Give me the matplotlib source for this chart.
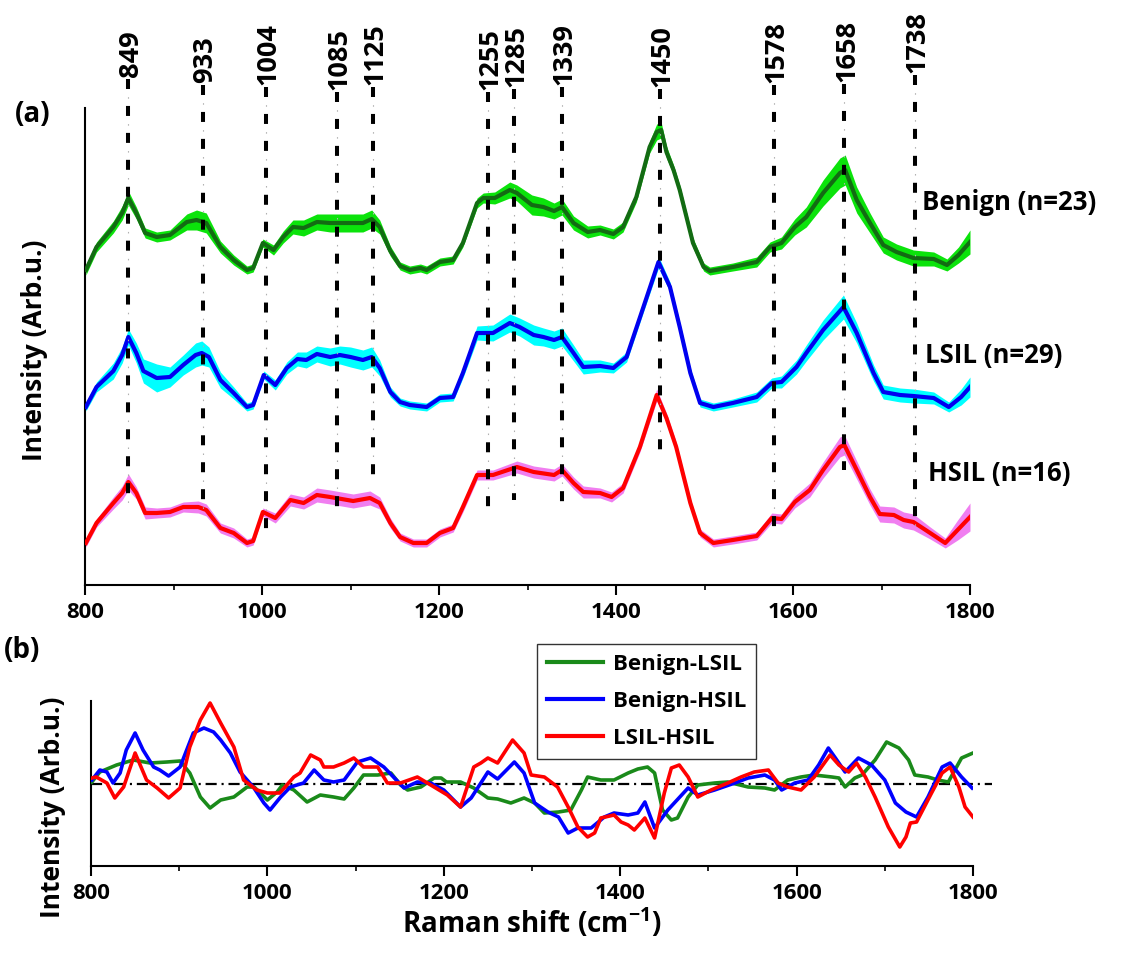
import matplotlib
matplotlib.use('Agg')
import matplotlib.pyplot as plt
from matplotlib.ticker import MultipleLocator

# ---------------- (a) mean spectra (wavenumber, intensity, half-width of band) -------------
benign_wn = [801, 813, 832, 842, 849, 858, 868, 881, 896, 915, 926, 937, 953, 968, 983, 990, 1001,
             1013, 1024, 1035, 1047, 1062, 1077, 1095, 1114, 1124, 1133, 1145, 1156, 1167, 1179,
             1186, 1201, 1216, 1227, 1243, 1250, 1263, 1280, 1288, 1305, 1318, 1330, 1339, 1352,
             1368, 1382, 1397, 1408, 1423, 1438, 1446, 1451, 1457, 1465, 1472, 1487, 1499, 1506, 1532,
             1559, 1574, 1587, 1602, 1615, 1634, 1653, 1659, 1672, 1687, 1702, 1717, 1736, 1759,
             1774, 1787, 1800]
benign_int = [315, 338, 358, 372, 387, 372, 352, 348, 350, 363, 365, 362, 338, 325, 315, 317, 342,
              335, 348, 358, 357, 363, 362, 362, 362, 366, 358, 334, 319, 315, 317,
              315, 323, 325, 342, 382, 387, 387, 395, 392, 380, 378, 374, 378, 362,
              353, 355, 351, 358, 388, 438, 453, 455, 433, 415, 395, 342, 318, 314, 318,
              323, 338, 342, 358, 368, 392, 412, 415, 385, 362, 340, 333, 327, 326,
              320, 330, 343]
benign_sd = [5, 5, 6, 7, 7, 6, 5, 5, 5, 8, 10, 10, 6, 5, 4, 4, 4,
             5, 6, 7, 8, 8, 9, 9, 9, 9, 7, 5, 4, 4, 4,
             4, 4, 4, 4, 5, 5, 6, 8, 8, 10, 9, 8, 8, 7,
             6, 5, 5, 5, 5, 6, 8, 8, 6, 5, 5, 5, 4, 4, 4,
             5, 5, 6, 8, 10, 13, 15, 15, 13, 10, 8, 8, 8, 7,
             6, 8, 12]

lsil_wn = [801, 813, 832, 842, 849, 858, 866, 881, 896, 911, 925, 932, 940, 953, 968, 983, 990,
           1002, 1015, 1028, 1040, 1050, 1062, 1077, 1088, 1100, 1114, 1124, 1133, 1145, 1156,
           1167, 1186, 1201, 1216, 1227, 1243, 1261, 1280, 1291, 1307, 1318, 1330, 1339, 1352,
           1363, 1382, 1397, 1412, 1431, 1448, 1461, 1472, 1484, 1495, 1510, 1532, 1559, 1576,
           1587, 1604, 1615, 1634, 1657, 1672, 1691, 1702, 1721, 1736, 1759, 1776, 1790, 1800]
lsil_int = [178, 198, 214, 230, 248, 232, 214, 207, 208, 220, 230, 232, 228, 205, 192, 178, 180,
            210, 200, 217, 226, 225, 231, 228, 230, 228, 225, 228, 217, 193, 183,
            180, 178, 187, 188, 212, 252, 252, 262, 258, 250, 248, 245, 248, 232,
            218, 219, 217, 228, 278, 323, 298, 258, 212, 182, 178, 182, 188, 202,
            203, 218, 232, 255, 278, 252, 212, 193, 190, 189, 187, 178, 188, 198]
lsil_sd = [4, 5, 8, 8, 8, 10, 12, 14, 10, 10, 12, 12, 10, 8, 6, 4, 4,
           4, 5, 6, 7, 8, 8, 9, 9, 10, 10, 10, 8, 5, 4,
           4, 4, 4, 4, 5, 7, 8, 9, 9, 10, 9, 9, 9, 8,
           7, 6, 5, 5, 5, 6, 5, 5, 5, 4, 4, 4, 5, 5,
           6, 7, 8, 10, 12, 10, 8, 7, 7, 7, 6, 5, 8, 10]

hsil_wn = [801, 813, 832, 842, 849, 858, 868, 881, 896, 911, 928, 937, 953, 968, 983, 990, 1001,
           1015, 1032, 1047, 1062, 1077, 1103, 1122, 1133, 1145, 1156, 1171, 1186, 1201, 1216,
           1227, 1243, 1261, 1288, 1307, 1330, 1339, 1352, 1363, 1382, 1395, 1408, 1427, 1446,
           1457, 1468, 1484, 1495, 1510, 1532, 1559, 1576, 1587, 1602, 1619, 1634, 1653, 1658,
           1672, 1687, 1698, 1714, 1725, 1736, 1755, 1772, 1786, 1800]
hsil_int = [42, 62, 82, 92, 103, 92, 72, 72, 73, 78, 78, 75, 57, 52, 42, 44, 73,
            67, 85, 82, 90, 88, 84, 87, 82, 62, 48, 42, 42, 52, 57,
            78, 110, 110, 118, 113, 110, 115, 102, 93, 92, 88, 97, 138, 190,
            167, 138, 82, 52, 42, 45, 49, 67, 66, 83, 95, 115, 138, 140,
            115, 88, 71, 70, 65, 63, 52, 42, 55, 68]
hsil_sd = [4, 4, 6, 7, 8, 6, 6, 5, 5, 5, 6, 6, 5, 5, 4, 4, 4,
           5, 6, 6, 7, 7, 7, 7, 6, 5, 4, 4, 4, 4, 4,
           5, 5, 5, 6, 6, 6, 6, 6, 6, 5, 5, 5, 5, 6,
           5, 5, 4, 4, 4, 4, 4, 5, 5, 6, 7, 8, 10, 10,
           9, 8, 8, 8, 8, 8, 6, 5, 10, 14]

group_labels = ['Benign (n=23)', 'LSIL (n=29)', 'HSIL (n=16)']
peaks = [849, 933, 1004, 1085, 1125, 1255, 1285, 1339, 1450, 1578, 1658, 1738]

# ---------------- (b) difference spectra ----------------
bl_wn = [801, 810, 829, 848, 867, 886, 901, 912, 924, 935, 947, 962, 977, 985, 1000, 1011, 1017,
         1030, 1045, 1060, 1075, 1087, 1098, 1109, 1125, 1140, 1151, 1159, 1174, 1189, 1197, 1203,
         1219, 1234, 1250, 1261, 1276, 1291, 1303, 1314, 1330, 1344, 1356, 1363, 1378, 1393, 1409,
         1420, 1431, 1439, 1448, 1458, 1465, 1477, 1488, 1507, 1522, 1545, 1564, 1575, 1590, 1605,
         1620, 1640, 1648, 1655, 1666, 1674, 1689, 1702, 1716, 1727, 1734, 1749, 1760, 1772, 1787,
         1800]
bl_val = [2, 12, 19, 24, 21, 22, 23, 11, -13, -24, -16, -13, -3, -3, -16, -8, -1,
          -6, -18, -11, -13, -15, -4, 9, 9, 11, -1, -6, -3, 6, 6, 2,
          2, -4, -14, -15, -19, -14, -19, -29, -28, -26, -6, 7, 4, 4, 11,
          15, 17, 11, -26, -36, -34, -13, -1, 1, 2, -3, -4, -6, 4, 7,
          9, 7, 6, -3, 6, 9, 24, 42, 36, 24, 9, 7, 4, 2, 26,
          31]

bh_wn = [801, 810, 818, 825, 833, 840, 850, 859, 871, 878, 888, 901, 916, 928, 939, 947, 958,
         969, 984, 996, 1003, 1015, 1026, 1041, 1053, 1064, 1075, 1087, 1102, 1117, 1132, 1144,
         1155, 1170, 1185, 1200, 1219, 1231, 1242, 1250, 1261, 1280, 1291, 1303, 1318, 1330, 1341,
         1352, 1367, 1382, 1393, 1409, 1420, 1428, 1439, 1454, 1477, 1488, 1507, 1530, 1545, 1564,
         1575, 1583, 1598, 1613, 1625, 1636, 1644, 1655, 1670, 1685, 1700, 1712, 1724, 1736, 1749,
         1765, 1774, 1787, 1799]
bh_val = [4, 14, 12, 1, 11, 34, 51, 34, 17, 14, 8, 17, 51, 56, 52, 44, 31,
          12, -3, -19, -26, -13, -3, 1, 14, 4, 2, 4, 22, 26, 17, 6,
          -4, 2, 1, -6, -23, -14, 1, 12, 5, 22, 11, -19, -28, -33, -49,
          -44, -44, -33, -29, -31, -29, -18, -44, -26, -4, -11, -6, 1, 6, 9,
          4, -6, 1, 4, 19, 36, 26, 12, 26, 19, 4, -19, -28, -33, -13,
          17, 21, 7, -4]

lh_wn = [801, 806, 818, 827, 837, 850, 863, 875, 888, 901, 912, 924, 935, 947, 962, 973, 988,
         1000, 1014, 1030, 1037, 1049, 1060, 1064, 1075, 1087, 1098, 1109, 1125, 1136, 1151, 1170,
         1189, 1204, 1219, 1234, 1242, 1250, 1261, 1278, 1291, 1299, 1314, 1329, 1341, 1352, 1363,
         1371, 1378, 1393, 1401, 1409, 1416, 1428, 1439, 1450, 1458, 1467, 1477, 1488, 1503, 1522,
         1537, 1552, 1568, 1579, 1590, 1605, 1620, 1638, 1648, 1659, 1668, 1678, 1689, 1704, 1717,
         1724, 1729, 1736, 1753, 1765, 1774, 1784, 1791, 1800]
lh_val = [6, 7, 1, -14, -3, 31, 4, -4, -14, -4, 37, 64, 81, 61, 37, 4, -6,
          -9, -9, 7, 11, 29, 24, 17, 17, 21, 26, 17, 17, 1, 1, 7,
          -3, -11, -23, 17, 21, 26, 21, 44, 31, 9, 7, -3, -23, -43, -53,
          -49, -34, -31, -38, -41, -46, -34, -54, -9, 16, 19, 7, -13, -6, 1,
          7, 12, 14, 1, -3, -6, 7, 29, 19, 12, 21, 7, -13, -43, -63,
          -53, -39, -38, -9, 11, 17, -3, -23, -33]

diff_labels = ['Benign-LSIL', 'Benign-HSIL', 'LSIL-HSIL']

# ---------------- style ----------------
FONT = ['Open Sans', 'DejaVu Sans']
plt.rcParams['font.family'] = FONT
plt.rcParams['font.weight'] = 'bold'
plt.rcParams['lines.scale_dashes'] = False
plt.rcParams['mathtext.fontset'] = 'custom'
plt.rcParams['mathtext.rm'] = 'Open Sans:bold'
plt.rcParams['mathtext.it'] = 'Open Sans:bold'
plt.rcParams['mathtext.bf'] = 'Open Sans:bold'

W, H = 1123, 958
fig = plt.figure(figsize=(W / 100, H / 100), dpi=100)
ax1 = fig.add_axes([85 / W, 1 - 585 / H, 885 / W, 477 / H])
ax2 = fig.add_axes([91 / W, 1 - 866 / H, 882 / W, 165 / H])

series = [
    (benign_wn, benign_int, benign_sd, '#0be30b', '#136b13'),
    (lsil_wn, lsil_int, lsil_sd, '#00ffff', '#0000f0'),
    (hsil_wn, hsil_int, hsil_sd, '#f07ef0', '#ff0000'),
]
for wn, val, sd, band_c, line_c in series:
    lo = [v - s for v, s in zip(val, sd)]
    hi = [v + s for v, s in zip(val, sd)]
    ax1.fill_between(wn, lo, hi, color=band_c, lw=0, zorder=2)
    ax1.plot(wn, val, color=line_c, lw=3, zorder=3, solid_joinstyle='round')

# peak marker lines (extent in axis units of panel a)
line_bottom = [78, 70, 55, 78, 108, 78, 85, 80, 133, 52, 115, 53]
label_base = [508, 502, 500, 495, 500, 495, 498, 500, 498, 502, 503, 512]
for p, yb, yt in zip(peaks, line_bottom, label_base):
    ax1.plot([p, p], [yt - 2, yb], color='black', lw=2.9,
             linestyle=(0, (7.2, 12.2)), clip_on=False, zorder=5)
    ax1.plot([p, p], [yt - 2, yb], color='#b0b0b0', lw=0.8,
             linestyle=(6.66, (1.1, 18.3)), clip_on=False, zorder=5)
    ax1.text(p + 3, yt, str(p), rotation=90, ha='center', va='bottom',
             fontsize=19.5, fontweight='bold', clip_on=False)

label_pos = [(1746, 382), (1749, 230), (1752, 112)]
for txt, (lx, ly) in zip(group_labels, label_pos):
    ax1.text(lx, ly, txt, ha='left', va='center', fontsize=18.5, fontweight='bold',
             clip_on=False, zorder=6)

ax1.set_xlim(800, 1800)
ax1.set_ylim(0, 477)
ax1.set_yticks([])
for s in ['top', 'right']:
    ax1.spines[s].set_visible(False)
for s in ['left', 'bottom']:
    ax1.spines[s].set_linewidth(1.5)
ax1.xaxis.set_major_locator(MultipleLocator(200))
ax1.xaxis.set_minor_locator(MultipleLocator(100))
ax1.tick_params(axis='x', which='major', length=7, width=1.5, labelsize=16, pad=5)
ax1.tick_params(axis='x', which='minor', length=3.5, width=1.2)
for lab in ax1.get_xticklabels():
    lab.set_fontweight('bold')

# ---------------- panel b ----------------
diff_series = [(bl_wn, bl_val, '#1a8a1a'), (bh_wn, bh_val, '#0000ff'), (lh_wn, lh_val, '#ff0000')]
for (wn, val, c), lab in zip(diff_series, diff_labels):
    ax2.plot(wn, val, color=c, lw=2.6, label=lab, zorder=3, solid_joinstyle='round')
ax2.plot([800, 1821], [0, 0], color='black', lw=1.6,
         linestyle=(0, (8, 3.5, 1.5, 3.5)), clip_on=False, zorder=2)

ax2.set_xlim(800, 1800)
ax2.set_ylim(-82, 83)
ax2.set_yticks([])
for s in ['top', 'right']:
    ax2.spines[s].set_visible(False)
for s in ['left', 'bottom']:
    ax2.spines[s].set_linewidth(1.5)
ax2.xaxis.set_major_locator(MultipleLocator(200))
ax2.xaxis.set_minor_locator(MultipleLocator(100))
ax2.tick_params(axis='x', which='major', length=7, width=1.5, labelsize=16, pad=5)
ax2.tick_params(axis='x', which='minor', length=3.5, width=1.2)
for lab in ax2.get_xticklabels():
    lab.set_fontweight('bold')
ax2.set_xlabel('Raman shift (cm$^{\\mathbf{-1}}$)', fontsize=20, fontweight='bold', labelpad=2)

leg = fig.legend(loc='upper left', bbox_to_anchor=(537 / W, 1 - 644 / H),
                 handles=ax2.get_lines()[:3], labels=diff_labels,
                 fontsize=16, frameon=True, fancybox=False, edgecolor='black',
                 handlelength=2.5, handletextpad=0.45, labelspacing=0.72,
                 borderpad=0.45, borderaxespad=0)
leg.get_frame().set_linewidth(1.0)
for t in leg.get_texts():
    t.set_fontweight('bold')
for h in leg.legend_handles:
    h.set_linewidth(3)

fig.text(35 / W, 1 - 350 / H, 'Intensity (Arb.u.)', rotation=90, ha='center', va='center',
         fontsize=19, fontweight='bold')
fig.text(52 / W, 1 - 807 / H, 'Intensity (Arb.u.)', rotation=90, ha='center', va='center',
         fontsize=19, fontweight='bold')
fig.text(33 / W, 1 - 115 / H, '(a)', ha='center', va='center', fontsize=20, fontweight='bold')
fig.text(22 / W, 1 - 651 / H, '(b)', ha='center', va='center', fontsize=20, fontweight='bold')

fig.savefig('out.png', dpi=100)
